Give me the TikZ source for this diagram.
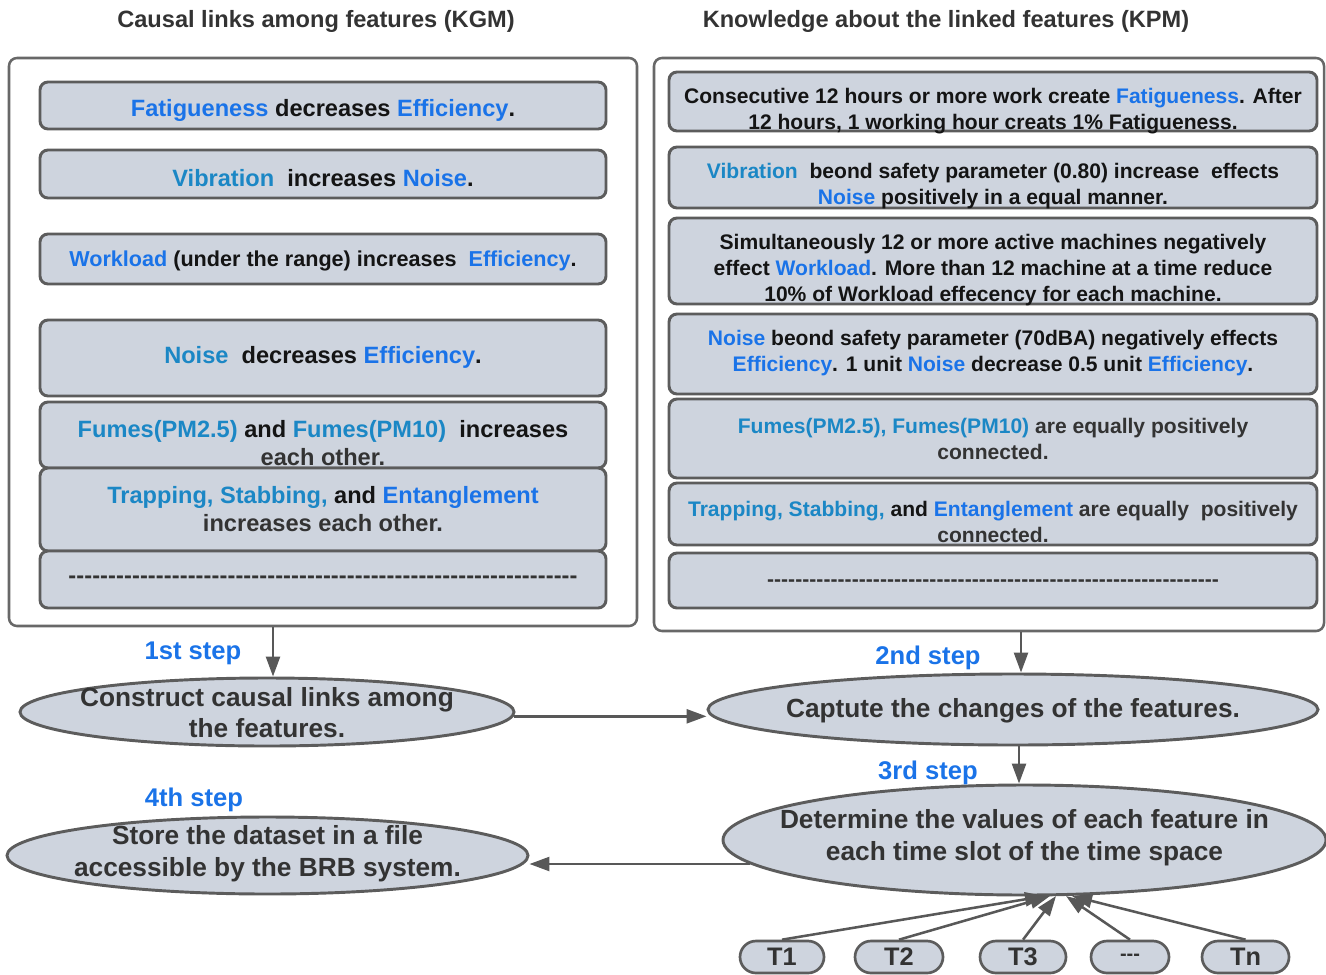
\documentclass[tikz,border=0pt]{standalone}
\usepackage{fontspec}
\setmainfont{Liberation Sans}
\usetikzlibrary{arrows.meta,shapes.geometric,shapes.misc}

\definecolor{cardfill}{HTML}{CED4DE}
\definecolor{cardline}{HTML}{5C5C5C}
\definecolor{panelline}{HTML}{686868}
\definecolor{arrowc}{HTML}{585858}
\definecolor{kwbright}{HTML}{1A73E8}
\definecolor{kwteal}{HTML}{1B87C5}
\definecolor{inkdark}{HTML}{141414}
\definecolor{inkgray}{HTML}{333333}

\newcommand\pxu{0.75pt}
\newcommand\kwb[1]{\textcolor{kwbright}{#1}}
\newcommand\kwt[1]{\textcolor{kwteal}{#1}}
\newcommand\dashrow[1]{\makebox[#1]{\xleaders\hbox{-}\hfill}}

\tikzset{
  title/.style={font=\bfseries\fontsize{17.7}{21}\selectfont, text=inkgray, inner sep=0pt, yshift=-1.5pt},
  panel/.style={draw=panelline, line width=1.9pt, fill=white, rounded corners=6pt},
  card/.style={draw=cardline, line width=2.2pt, fill=cardfill, rounded corners=6pt},
  ktext/.style={font=\bfseries\fontsize{17.7}{21}\selectfont, text=inkdark, align=center, inner sep=0pt, yshift=-1.5pt},
  ptext/.style={font=\bfseries\fontsize{15.8}{19.5}\selectfont, text=inkdark, align=center, inner sep=0pt, yshift=-2pt},
  oval/.style={ellipse, draw=cardline, line width=2.2pt, fill=cardfill, inner sep=0pt},
  otext/.style={font=\bfseries\fontsize{19.7}{23.6}\selectfont, text=inkgray, align=center, inner sep=0pt, yshift=-1.2pt},
  steplab/.style={font=\bfseries\fontsize{19.2}{23}\selectfont, text=kwbright, inner sep=0pt, yshift=-1.5pt},
  slot/.style={rounded rectangle, draw=cardline, line width=2pt, fill=cardfill, inner sep=0pt,
    minimum height=32*\pxu, font=\bfseries\fontsize{19}{22}\selectfont, text=inkgray},
  arr/.style={draw=arrowc, line width=1.9pt, -{Triangle[length=15pt,width=10.5pt]}},
}

\begin{document}
\begin{tikzpicture}[x=0.75pt, y=-0.75pt]
\useasboundingbox (0,0) rectangle (1326,974);

% headings of the two panels
\node[title] (hkgm) at (316,19) {Causal links among features (KGM)};
\node[title] (hkpm) at (946,19) {Knowledge about the linked features (KPM)};

% the two panels
\node[panel, minimum width=628*\pxu, minimum height=568*\pxu] (kgm) at (323,342) {};
\node[panel, minimum width=670*\pxu, minimum height=573*\pxu] (kpm) at (989,344.5) {};

% causal links (KGM)
\node[card, minimum width=566*\pxu, minimum height=47*\pxu] (k1) at (323,105.5) {};
\node[ktext] (k1t) at (323,108) {\kwb{Fatigueness} decreases \kwb{Efficiency}.};
\node[card, minimum width=566*\pxu, minimum height=48*\pxu] (k2) at (323,174) {};
\node[ktext] (k2t) at (323,176) {\kwt{Vibration}\ \ increases \kwb{Noise}.};
\node[card, minimum width=566*\pxu, minimum height=50*\pxu] (k3) at (323,259) {};
\node[ktext, font=\bfseries\fontsize{16.2}{20}\selectfont] (k3t) at (323,259) {\kwb{Workload} (under the range) increases\ \ \kwb{Efficiency}.};
\node[card, minimum width=566*\pxu, minimum height=76*\pxu] (k4) at (323,358) {};
\node[ktext] (k4t) at (323,355) {\kwt{Noise}\ \ decreases \kwb{Efficiency}.};
\node[card, minimum width=566*\pxu, minimum height=66*\pxu] (k5) at (323,435) {};
\node[ktext] (k5t) at (323,441) {\kwt{Fumes(PM2.5)} and \kwt{Fumes(PM10)}\ \ increases\\\textcolor{inkgray}{each other.}};
\node[card, minimum width=566*\pxu, minimum height=83*\pxu] (k6) at (323,509.5) {};
\node[ktext] (k6t) at (323,507) {\kwt{Trapping, Stabbing,} and \kwb{Entanglement}\\\textcolor{inkgray}{increases each other.}};
\node[card, minimum width=566*\pxu, minimum height=57*\pxu] (k7) at (323,579.5) {};
\node[ktext, text=inkgray] (k7t) at (323,578) {\dashrow{382pt}};

% knowledge about the features (KPM)
\node[card, minimum width=648*\pxu, minimum height=59*\pxu] (p1) at (993,101.5) {};
\node[ptext] (p1t) at (993,108) {Consecutive 12 hours or more work create \kwb{Fatigueness}. After\\12 hours, 1 working hour creats 1\% Fatigueness.};
\node[card, minimum width=648*\pxu, minimum height=61*\pxu] (p2) at (993,177.5) {};
\node[ptext] (p2t) at (993,183) {\kwt{Vibration}\ \ beond safety parameter (0.80) increase\ \ effects\\\kwb{Noise} positively in a equal manner.};
\node[card, minimum width=648*\pxu, minimum height=86*\pxu] (p3) at (993,261) {};
\node[ptext] (p3t) at (993,267.5) {Simultaneously 12 or more active machines negatively\\effect \kwb{Workload}. More than 12 machine at a time reduce\\10\% of Workload effecency for each machine.};
\node[card, minimum width=648*\pxu, minimum height=80*\pxu] (p4) at (993,354) {};
\node[ptext] (p4t) at (993,350.5) {\kwb{Noise} beond safety parameter (70dBA) negatively effects\\\kwb{Efficiency}. 1 unit \kwb{Noise} decrease 0.5 unit \kwb{Efficiency}.};
\node[card, minimum width=648*\pxu, minimum height=79*\pxu] (p5) at (993,438.5) {};
\node[ptext, text=inkgray] (p5t) at (993,436.5) {\kwt{Fumes(PM2.5), Fumes(PM10)} are equally positively\\connected.};
\node[card, minimum width=648*\pxu, minimum height=62*\pxu] (p6) at (993,514) {};
\node[ptext, text=inkgray] (p6t) at (993,519.5) {\kwt{Trapping, Stabbing,} \textcolor{inkdark}{and} \kwb{Entanglement} are equally\ \ positively\\connected.};
\node[card, minimum width=648*\pxu, minimum height=55*\pxu] (p7) at (993,580.5) {};
\node[ptext, text=inkgray] (p7t) at (993,580) {\dashrow{339pt}};

% process steps
\node[oval, minimum width=494*\pxu, minimum height=68*\pxu] (s1) at (267,712) {};
\node[otext] (s1t) at (267,711) {Construct causal links among\\the features.};
\node[oval, minimum width=610*\pxu, minimum height=71*\pxu] (s2) at (1013,709.5) {};
\node[otext] (s2t) at (1013,709) {Captute the changes of the features.};
\node[oval, minimum width=603*\pxu, minimum height=110*\pxu] (s3) at (1024.5,840) {};
\node[otext] (s3t) at (1024.5,836) {Determine the values of each feature in\\each time slot of the time space};
\node[oval, minimum width=521*\pxu, minimum height=77*\pxu] (s4) at (267.5,855.5) {};
\node[otext] (s4t) at (267.5,852) {Store the dataset in a file\\accessible by the BRB system.};

\node[steplab] (l1) at (193,651) {1st step};
\node[steplab] (l2) at (928,656) {2nd step};
\node[steplab] (l3) at (928,771) {3rd step};
\node[steplab] (l4) at (194,798) {4th step};

% time slots
\node[slot, minimum width=84*\pxu] (t1) at (782,957) {\raisebox{-1.5pt}{T1}};
\node[slot, minimum width=88*\pxu] (t2) at (899,957) {\raisebox{-1.5pt}{T2}};
\node[slot, minimum width=86*\pxu] (t3) at (1023,957) {\raisebox{-1.5pt}{T3}};
\node[slot, minimum width=78*\pxu] (tdots) at (1130,957) {\raisebox{-3pt}{\fontsize{15}{15}\selectfont -{}-{}-}};
\node[slot, minimum width=87*\pxu] (tn) at (1245.5,957) {\raisebox{-1.5pt}{Tn}};

% connectors
\coordinate (x1) at (273,0);
\coordinate (x2) at (1021,0);
\coordinate (x3) at (1019,0);
\draw[arr] (kgm.south -| x1) -- (s1.north -| x1);
\draw[arr] (kpm.south -| x2) -- (s2.north -| x2);
\draw[arr] (s1.-1) -- (s1.-1 -| s2.west);
\draw[arr] (s2.south -| x3) -- (s3.north -| x3);
\draw[arr] (s3.185) -- (s3.185 -| s4.east);

\coordinate (in1) at (1045,896);
\coordinate (in2) at (1050,896);
\coordinate (in3) at (1056,896);
\coordinate (in4) at (1066,896);
\coordinate (in5) at (1072,896);
\draw[arr] (t1.north) -- (in1);
\draw[arr] (t2.north) -- (in2);
\draw[arr] (t3.north) -- (in3);
\draw[arr] (tdots.north) -- (in4);
\draw[arr] (tn.north) -- (in5);
\end{tikzpicture}
\end{document}
